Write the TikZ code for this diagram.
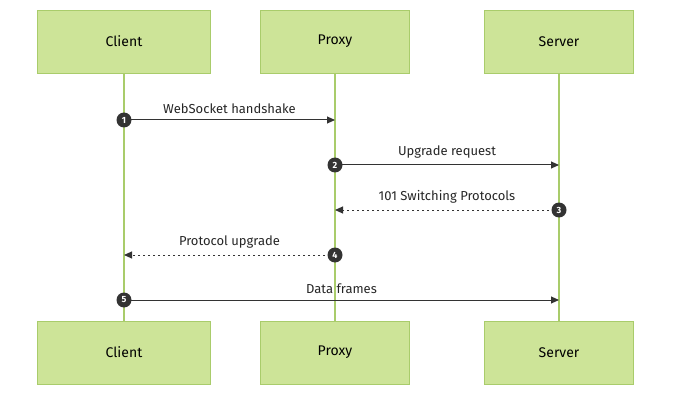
\documentclass[tikz,border=0pt]{standalone}
\usepackage{fontspec}
\setmainfont{Fira Sans}
\usetikzlibrary{positioning, arrows.meta}
\definecolor{actorfill}{HTML}{CDE498}
\definecolor{actorline}{HTML}{A9CC6B}
\definecolor{lifeline}{HTML}{A9CC6B}
\tikzset{
	actor/.style={
		draw=actorline,
		fill=actorfill,
		minimum width=149pt,
		minimum height=63pt,
		font=\fontsize{14}{16}\selectfont
	},
	msg/.style={-{Triangle[length=8pt,width=7pt]}, draw=black!80, line width=1pt},
	reply/.style={msg, dash pattern=on 2.5pt off 2.5pt},
	seq/.style={
		circle,
		fill=black!80,
		text=white,
		inner sep=0pt,
		minimum size=15pt,
		font=\bfseries\fontsize{9}{10}\selectfont
	},
	lbl/.style={font=\fontsize{13}{15}\selectfont, above=3pt, text=black!85}
}
\begin{document}
\begin{tikzpicture}[x=1pt, y=-1pt]
	\useasboundingbox (0,0) rectangle (691,401);

	% participants
	\node[actor, minimum width=173pt] (clienttop) at (124,41.5) {Client};
	\node[actor] (proxytop) at (335,41.5) {Proxy};
	\node[actor] (servertop) at (559,41.5) {Server};
	\node[actor, minimum width=173pt] (clientbot) at (124,352.5) {Client};
	\node[actor] (proxybot) at (335,352.5) {Proxy};
	\node[actor] (serverbot) at (559,352.5) {Server};

	% lifelines
	\begin{scope}[draw=lifeline, line width=1.6pt]
	\draw (clienttop) -- (clientbot);
	\draw (proxytop) -- (proxybot);
	\draw (servertop) -- (serverbot);
	\end{scope}

	% anchors on the lifelines
	\coordinate (c1) at (124,120);
	\coordinate (p1) at (335,120);
	\coordinate (p2) at (335,165);
	\coordinate (s2) at (559,165);
	\coordinate (s3) at (559,210);
	\coordinate (p3) at (335,210);
	\coordinate (p4) at (335,255);
	\coordinate (c4) at (124,255);
	\coordinate (c5) at (124,300);
	\coordinate (s5) at (559,300);

	% messages
	\draw[msg] (c1) -- node[lbl] {WebSocket handshake} (p1);
	\draw[msg] (p2) -- node[lbl] {Upgrade request} (s2);
	\draw[reply] (s3) -- node[lbl] {101 Switching Protocols} (p3);
	\draw[reply] (p4) -- node[lbl] {Protocol upgrade} (c4);
	\draw[msg] (c5) -- node[lbl] {Data frames} (s5);

	% sequence numbers
	\node[seq] (n1) at (c1) {1};
	\node[seq] (n2) at (p2) {2};
	\node[seq] (n3) at (s3) {3};
	\node[seq] (n4) at (p4) {4};
	\node[seq] (n5) at (c5) {5};
\end{tikzpicture}
\end{document}
